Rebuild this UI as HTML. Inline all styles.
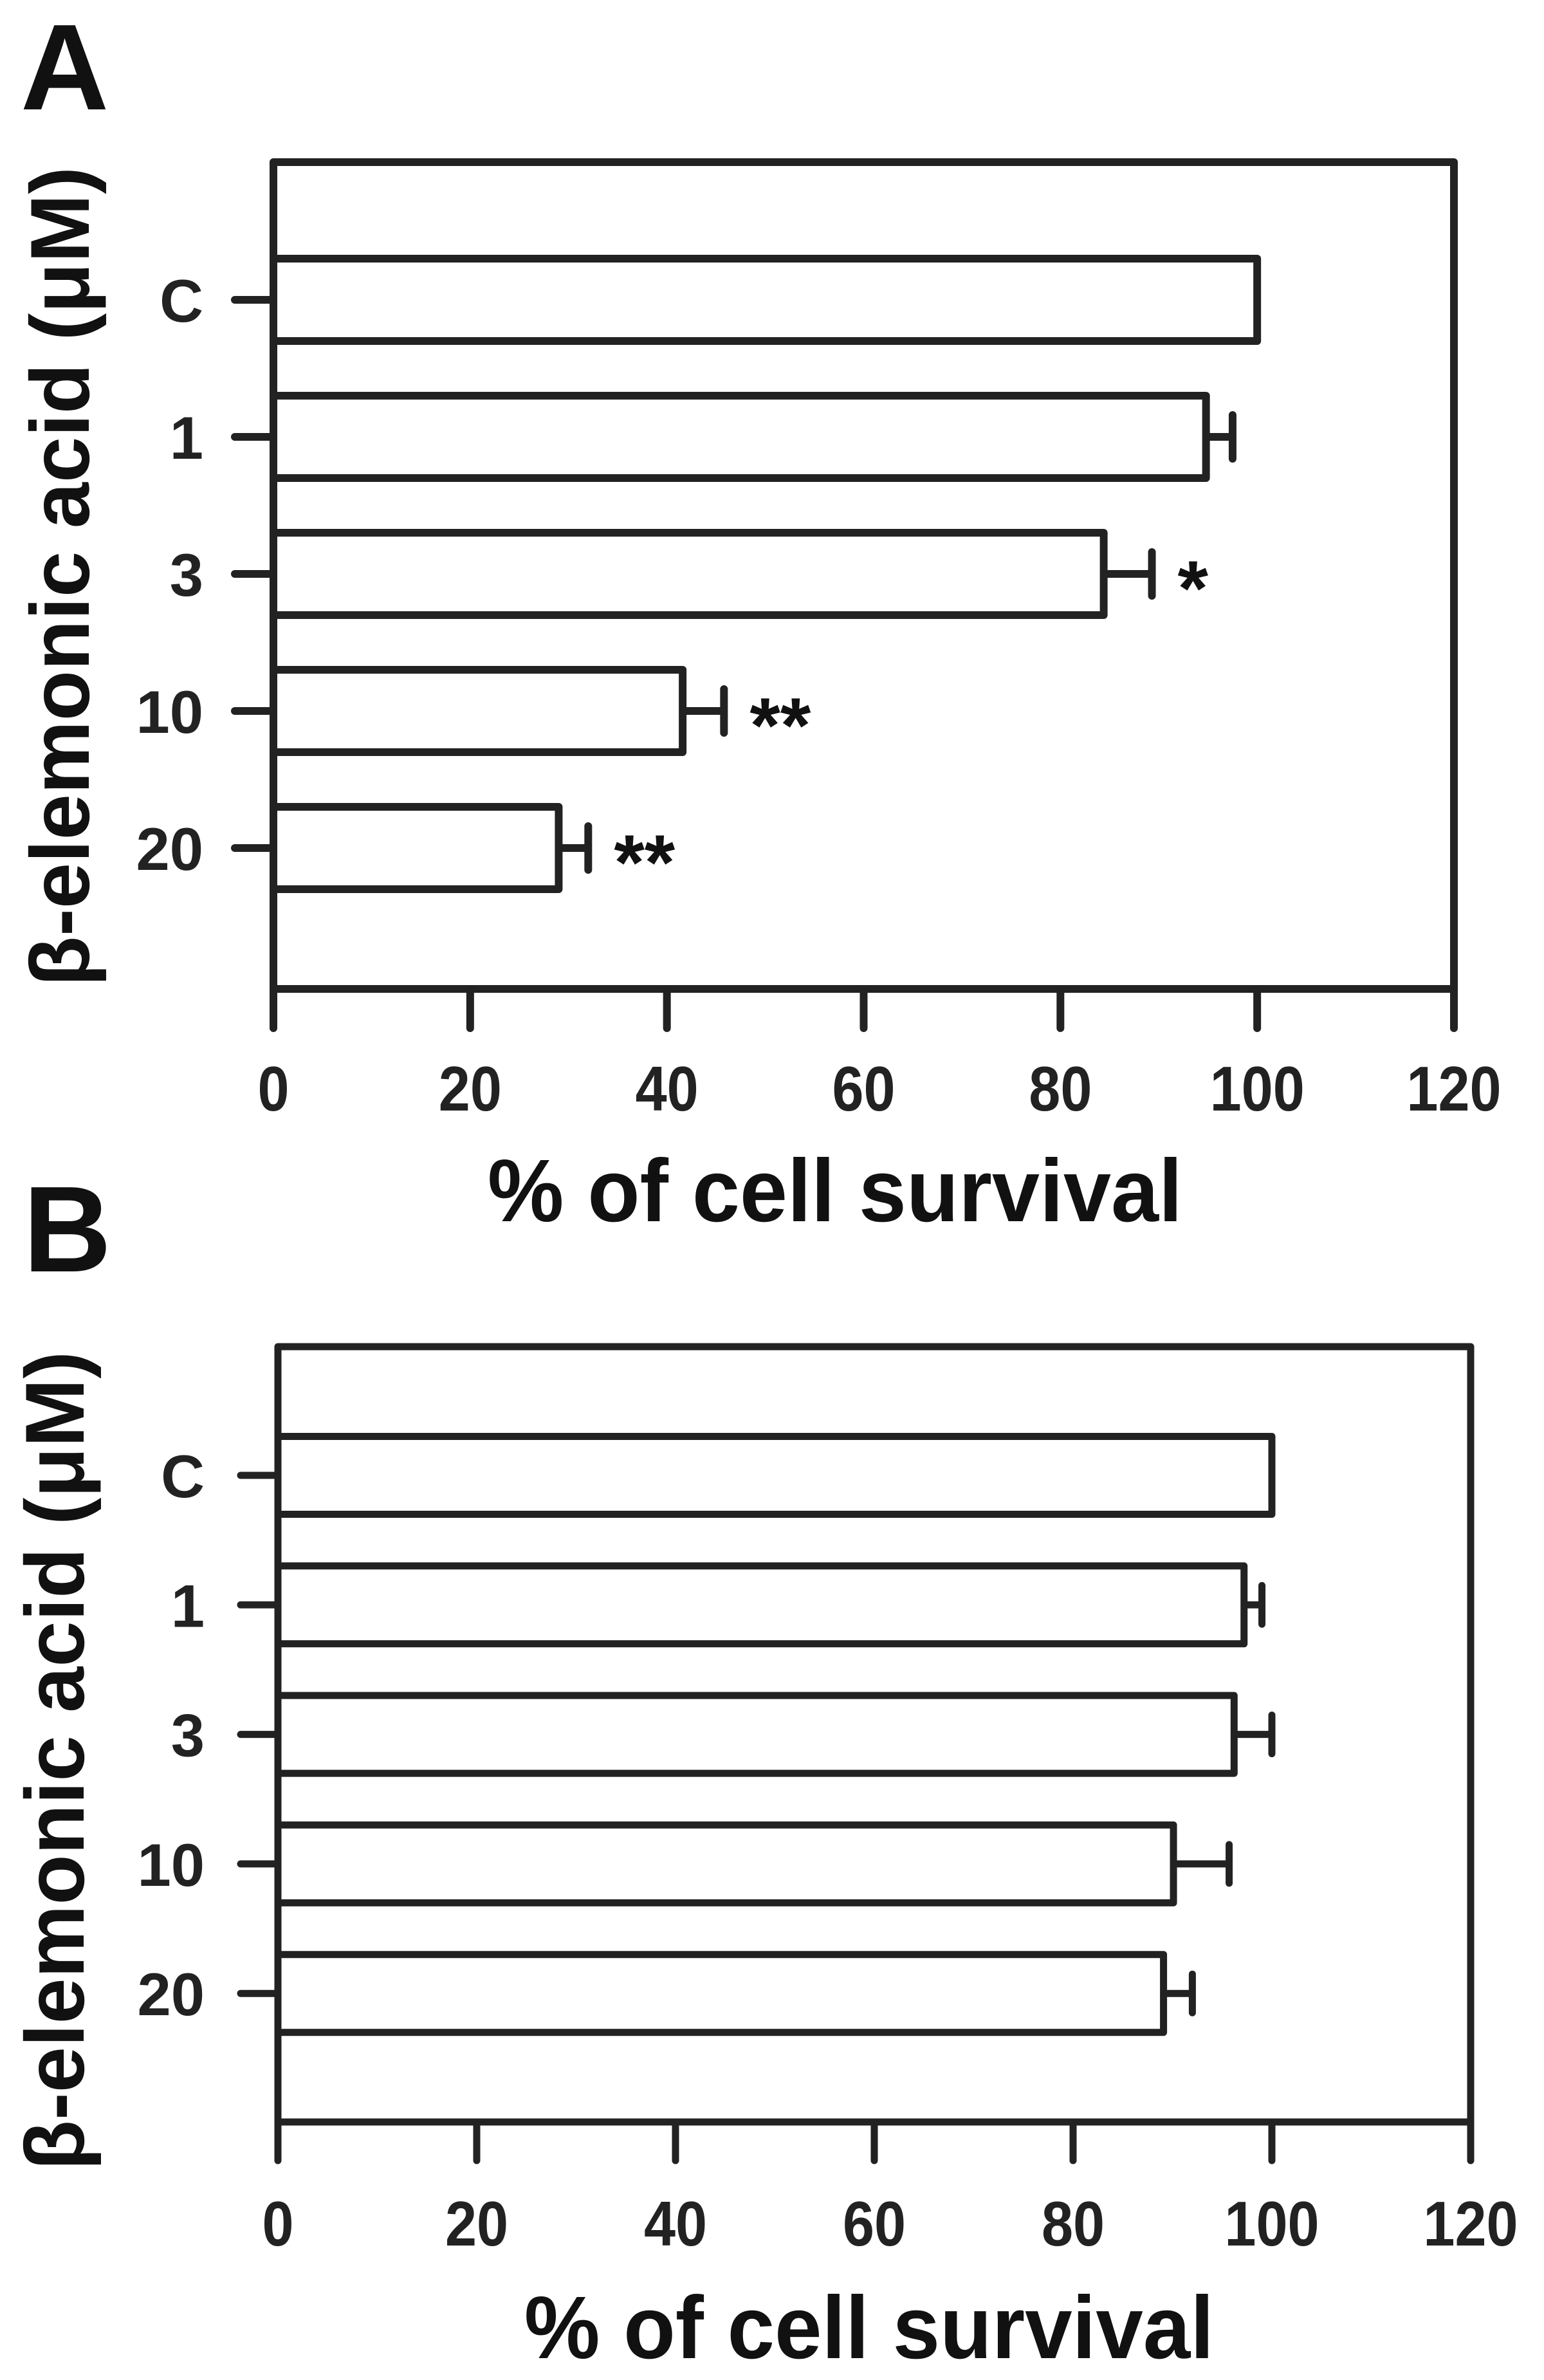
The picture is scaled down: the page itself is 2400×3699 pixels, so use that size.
<!DOCTYPE html>
<html><head><meta charset="utf-8"><style>
html,body{margin:0;padding:0;background:#fff;}
svg{display:block;}
text{font-family:"Liberation Sans",Arial,sans-serif;font-weight:bold;}
</style></head><body>
<svg id="fig" width="2400" height="3699" viewBox="0 0 2400 3699" xmlns="http://www.w3.org/2000/svg">
<rect width="2400" height="3699" fill="#fff"/>
<text x="32" y="170" font-size="190" fill="#111">A</text>
<text x="36" y="1976" font-size="190" fill="#111">B</text>
<g id="pa"></g>
<g id="pb"></g>
</svg>
<script>
const categories = ["C", "1", "3", "10", "20"];
const xTicks = [0, 20, 40, 60, 80, 100, 120];
const valuesA = [100, 94.8, 84.4, 41.6, 29.0];
const errorsA = [0, 2.7, 4.9, 4.2, 3.0];
const starsA = ["", "", "*", "**", "**"];
const valuesB = [100, 97.2, 96.2, 90.1, 89.1];
const errorsB = [0, 1.8, 3.8, 5.6, 2.9];
const starsB = ["", "", "", "", ""];
const yTitle = "β-elemonic acid (μM)";
const xTitle = "% of cell survival";

const NS = "http://www.w3.org/2000/svg";
const COL = "#222";
function mk(tag, attrs, parent) {
  const e = document.createElementNS(NS, tag);
  for (const k in attrs) e.setAttribute(k, attrs[k]);
  parent.appendChild(e);
  return e;
}
function drawPanel(g, cfg, values, errors, stars) {
  const xs = v => cfg.left + (v - 0) / 120 * (cfg.right - cfg.left);
  const ys = i => cfg.cy0 + i * cfg.step;
  const sw = cfg.sw;
  values.forEach((v, i) => {
    const cy = ys(i);
    const r = mk("rect", {x: cfg.left, y: cy - cfg.barH / 2, width: xs(v) - cfg.left, height: cfg.barH, fill: "#fff", stroke: COL, "stroke-width": sw, "stroke-linejoin": "round"}, g);
    
    
    if (errors[i] > 0) {
      const e1 = mk("line", {x1: xs(v), y1: cy, x2: xs(v + errors[i]), y2: cy, stroke: COL, "stroke-width": sw}, g);
      
      
      const e2 = mk("line", {x1: xs(v + errors[i]), y1: cy - cfg.capH / 2, x2: xs(v + errors[i]), y2: cy + cfg.capH / 2, stroke: COL, "stroke-width": sw, "stroke-linecap": "round"}, g);
      
      
    }
    if (stars[i]) {
      const s = mk("text", {x: xs(v + errors[i]) + cfg.starGap, y: cy + 64, "font-size": 122, fill: "#111"}, g);
      s.textContent = stars[i];
      
      
    }
    const t = mk("line", {x1: cfg.left - cfg.tickL, y1: cy, x2: cfg.left, y2: cy, stroke: COL, "stroke-width": sw, "stroke-linecap": "round"}, g);
    
    
    const lb = mk("text", {x: cfg.labelX, y: cy + 34, "font-size": 94, fill: COL, "text-anchor": "end"}, g);
    lb.textContent = categories[i];
    
    
  });
  const f = mk("rect", {x: cfg.left, y: cfg.top, width: cfg.right - cfg.left, height: cfg.bottom - cfg.top, fill: "none", stroke: COL, "stroke-width": sw, "stroke-linejoin": "round"}, g);
  
  
  xTicks.forEach(v => {
    const tk = mk("line", {x1: xs(v), y1: cfg.bottom, x2: xs(v), y2: cfg.tickBottom, stroke: COL, "stroke-width": sw, "stroke-linecap": "round"}, g);
    
    
    const tl = mk("text", {x: 0, y: 0, "font-size": 98, fill: COL, "text-anchor": "middle", transform: `translate(${xs(v)},${cfg.tickLabelY}) scale(0.9,1)`}, g);
    tl.textContent = v;
    
    
  });
  const xt = mk("text", {x: cfg.xtX, y: cfg.xtY, "font-size": 138, fill: "#111", textLength: cfg.xtW, lengthAdjust: "spacingAndGlyphs"}, g);
  xt.textContent = xTitle;
  
  
  const yt = mk("text", {x: 0, y: 0, "font-size": 130, fill: "#111", textLength: cfg.ytLen, lengthAdjust: "spacingAndGlyphs", transform: `translate(${cfg.ytX},${cfg.ytBottom}) rotate(-90)`}, g);
  yt.textContent = yTitle;
  
  
}
drawPanel(document.getElementById("pa"), {
  left: 425, right: 2260, top: 252, bottom: 1537, tickBottom: 1598, sw: 12,
  cy0: 466, step: 213, barH: 128, capH: 68, tickL: 60, labelX: 316, starGap: 40,
  tickLabelY: 1726, xtX: 758, xtY: 1898, xtW: 1080, ytX: 138, ytBottom: 1533, ytLen: 1274
}, valuesA, errorsA, starsA);
drawPanel(document.getElementById("pb"), {
  left: 432, right: 2286, top: 2093, bottom: 3298, tickBottom: 3358, sw: 11,
  cy0: 2293, step: 201.3, barH: 121, capH: 60, tickL: 58, labelX: 318, starGap: 40,
  tickLabelY: 3490, xtX: 815, xtY: 3665, xtW: 1072, ytX: 130, ytBottom: 3373, ytLen: 1273
}, valuesB, errorsB, starsB);
</script>
</body></html>
